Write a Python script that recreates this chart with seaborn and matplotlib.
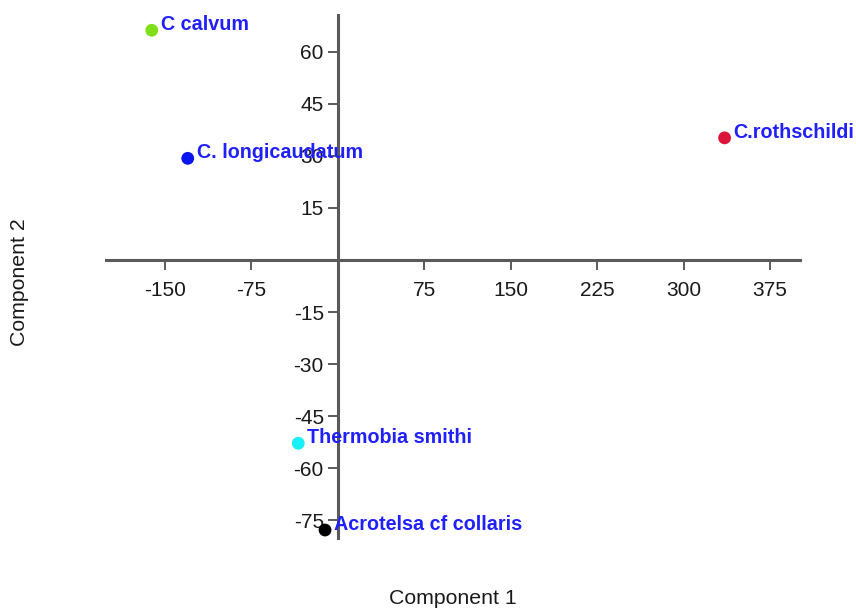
import matplotlib
matplotlib.use("Agg")
import matplotlib.pyplot as plt
import seaborn as sns
import pandas as pd

# PCA scores of the five taxa
species = ["C calvum", "C. longicaudatum", "C.rothschildi", "Thermobia smithi", "Acrotelsa cf collaris"]
comp1 = [-161.3, -130.1, 335.6, -34.2, -11.0]
comp2 = [66.2, 29.3, 35.2, -52.8, -77.8]
point_colors = ["#7fe01a", "#0a14f0", "#dc1439", "#19f0f5", "#000000"]

x_ticks = [-150, -75, 75, 150, 225, 300, 375]
y_ticks = [-75, -60, -45, -30, -15, 15, 30, 45, 60]

sns.set_theme(style="white")
plt.rcParams["font.family"] = ["Liberation Sans", "DejaVu Sans"]

df = pd.DataFrame({"species": species, "Component 1": comp1, "Component 2": comp2})

fig = plt.figure(figsize=(8.56, 6.12), dpi=100)
W, H = 856, 612
ax = fig.add_axes([106 / W, 1 - 538 / H, (800 - 106) / W, (538 - 15) / H])

sns.scatterplot(data=df, x="Component 1", y="Component 2", hue="species",
                palette=dict(zip(species, point_colors)), s=85, linewidth=0,
                legend=False, ax=ax, zorder=3)

for name, xv, yv in zip(species, comp1, comp2):
    ax.annotate(name, (xv, yv), xytext=(6.5, 0), textcoords="offset points",
                ha="left", va="baseline", color="#2020ff", fontsize=14.2,
                fontweight="bold", zorder=4)

ax.set_xlim(-201, 401)
ax.set_ylim(-80.1, 70.6)

# axes crossing at the origin
for side in ("top", "right"):
    ax.spines[side].set_visible(False)
for side in ("left", "bottom"):
    ax.spines[side].set_position(("data", 0))
    ax.spines[side].set_color("#5a5a5a")
    ax.spines[side].set_linewidth(2.2)

ax.set_xticks(x_ticks)
ax.set_yticks(y_ticks)
ax.set_xticklabels([str(v) for v in x_ticks])
ax.set_yticklabels([str(v) for v in y_ticks])
ax.tick_params(axis="both", direction="out", length=7, width=1.2, color="#404040",
               labelsize=15, labelcolor="#1a1a1a", bottom=True, left=True)
ax.tick_params(axis="x", pad=8)
ax.tick_params(axis="y", pad=3)
ax.set_xlabel("")
ax.set_ylabel("")

fig.text(452.5 / W, 1 - 599 / H, "Component 1", ha="center", va="center",
         fontsize=15.3, color="#1a1a1a")
fig.text(20 / W, 1 - 282 / H, "Component 2", ha="center", va="center",
         rotation=90, fontsize=15.3, color="#1a1a1a")

fig.savefig("out.png", dpi=100)
